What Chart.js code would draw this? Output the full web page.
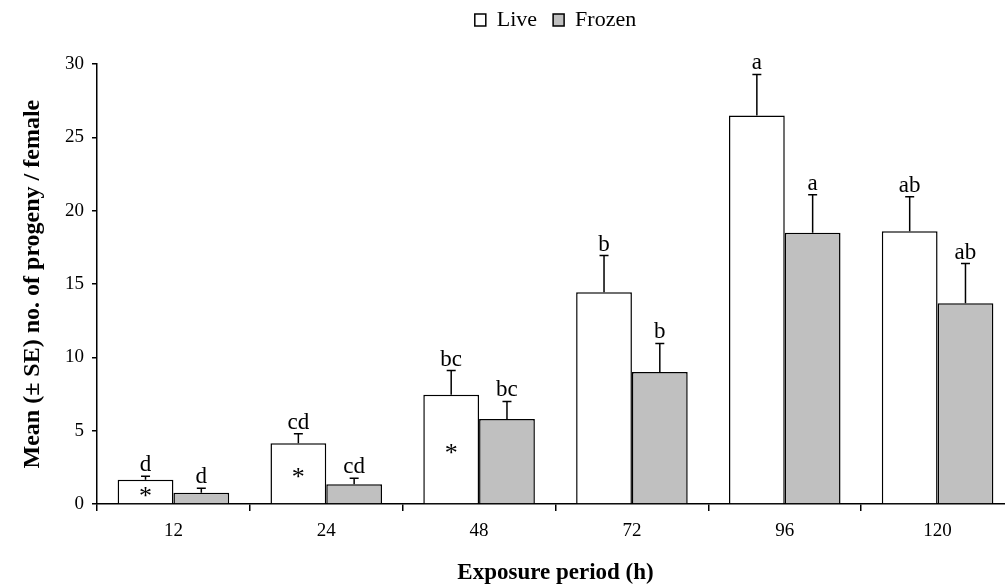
<!DOCTYPE html>
<html>
<head>
<meta charset="utf-8">
<script src="https://cdn.jsdelivr.net/npm/chart.js@4.4.1/dist/chart.umd.min.js"></script>
<style>
  html, body { margin: 0; padding: 0; background: #fff; overflow: hidden; }
  #wrap { width: 1014px; height: 587px; position: relative; }
</style>
</head>
<body>
<div id="wrap"><canvas id="progenyChart"></canvas></div>
<script>
const categories = ['12', '24', '48', '72', '96', '120'];

// Mean progeny per female and standard errors
const liveMean   = [1.65, 4.15, 7.45, 14.45, 26.5, 18.6];
const liveSE     = [0.25, 0.65, 1.65, 2.5, 2.8, 2.35];
const frozenMean = [0.77, 1.35, 5.8, 9.0, 18.5, 13.7];
const frozenSE   = [0.3, 0.4, 1.2, 1.95, 2.6, 2.7];

// Significance letters and within-bar marks
const liveLetters   = ['d', 'cd', 'bc', 'b', 'a', 'ab'];
const frozenLetters = ['d', 'cd', 'bc', 'b', 'a', 'ab'];
const liveMarks     = ['*', '*', '*', '', '', ''];

const yTicks = [0, 5, 10, 15, 20, 25, 30];

const serif = '"Liberation Serif", "Times New Roman", serif';

// draws SE whiskers, letters above them and marks inside bars
const annotate = {
    id: 'annotate',
    afterDatasetsDraw(chart) {
        const ctx = chart.ctx;
        const y = chart.scales.y;
        const extras = [
            { se: liveSE, letters: liveLetters, marks: liveMarks },
            { se: frozenSE, letters: frozenLetters, marks: null }
        ];
        ctx.save();
        extras.forEach((ex, di) => {
            const meta = chart.getDatasetMeta(di);
            const vals = chart.data.datasets[di].data;
            meta.data.forEach((bar, i) => {
                const top = y.getPixelForValue(vals[i]);
                const errTop = y.getPixelForValue(vals[i] + ex.se[i]);
                ctx.strokeStyle = '#000';
                ctx.lineWidth = 1.5;
                ctx.beginPath();
                ctx.moveTo(bar.x, top);
                ctx.lineTo(bar.x, errTop);
                ctx.moveTo(bar.x - 4.5, errTop);
                ctx.lineTo(bar.x + 4.5, errTop);
                ctx.stroke();

                ctx.fillStyle = '#000';
                ctx.font = '23px ' + serif;
                ctx.textAlign = 'center';
                ctx.textBaseline = 'alphabetic';
                ctx.fillText(ex.letters[i], bar.x, errTop - 5);

                if (ex.marks && ex.marks[i]) {
                    ctx.font = '26px ' + serif;
                    ctx.textBaseline = 'middle';
                    ctx.fillText(ex.marks[i], bar.x, (top + y.getPixelForValue(0)) / 2 + 5);
                }
            });
        });
        ctx.restore();
    }
};

new Chart(document.getElementById('progenyChart'), {
    type: 'bar',
    data: {
        labels: categories,
        datasets: [
            {
                label: 'Live',
                data: liveMean,
                backgroundColor: '#ffffff',
                borderColor: '#000000',
                borderWidth: 1.5,
                categoryPercentage: 0.73,
                barPercentage: 1.0
            },
            {
                label: 'Frozen',
                data: frozenMean,
                backgroundColor: '#c0c0c0',
                borderColor: '#000000',
                borderWidth: 1.5,
                categoryPercentage: 0.73,
                barPercentage: 1.0
            }
        ]
    },
    options: {
        responsive: true,
        maintainAspectRatio: false,
        animation: false,
        layout: { padding: { top: -7, left: 0, right: 0, bottom: 0 } },
        plugins: {
            legend: {
                position: 'top',
                fullSize: false,
                labels: {
                    color: '#000',
                    font: { family: serif, size: 22 },
                    boxWidth: 11,
                    boxHeight: 12,
                    padding: 16
                }
            },
            // empty block used as a gap between legend and plot
            title: {
                display: true,
                text: '',
                weight: 500,
                font: { size: 1 },
                padding: { top: 22, bottom: 0 }
            },
            tooltip: { enabled: false }
        },
        scales: {
            x: {
                grid: { offset: true, drawOnChartArea: false, color: '#000', lineWidth: 1.5, tickLength: 7 },
                border: { color: '#000', width: 1.5 },
                ticks: { color: '#000', font: { family: serif, size: 19 }, padding: 9 },
                title: {
                    display: true,
                    text: 'Exposure period (h)',
                    color: '#000',
                    font: { family: serif, size: 23, weight: 'bold' },
                    padding: { top: 0, bottom: 0 }
                },
                afterFit(scale) { scale.height = 83; }
            },
            y: {
                min: 0,
                max: 30,
                afterBuildTicks(scale) { scale.ticks = yTicks.map(v => ({ value: v })); },
                grid: { drawOnChartArea: false, color: '#000', lineWidth: 1.5, tickLength: 5 },
                border: { color: '#000', width: 1.5 },
                ticks: { color: '#000', font: { family: serif, size: 19 }, padding: 8 },
                title: {
                    display: true,
                    text: 'Mean (± SE) no. of progeny / female',
                    color: '#000',
                    font: { family: serif, size: 24, weight: 'bold' },
                    padding: { top: 18, bottom: 0 }
                },
                afterFit(scale) { scale.width = 97; }
            }
        }
    },
    plugins: [annotate]
});
</script>
</body>
</html>
